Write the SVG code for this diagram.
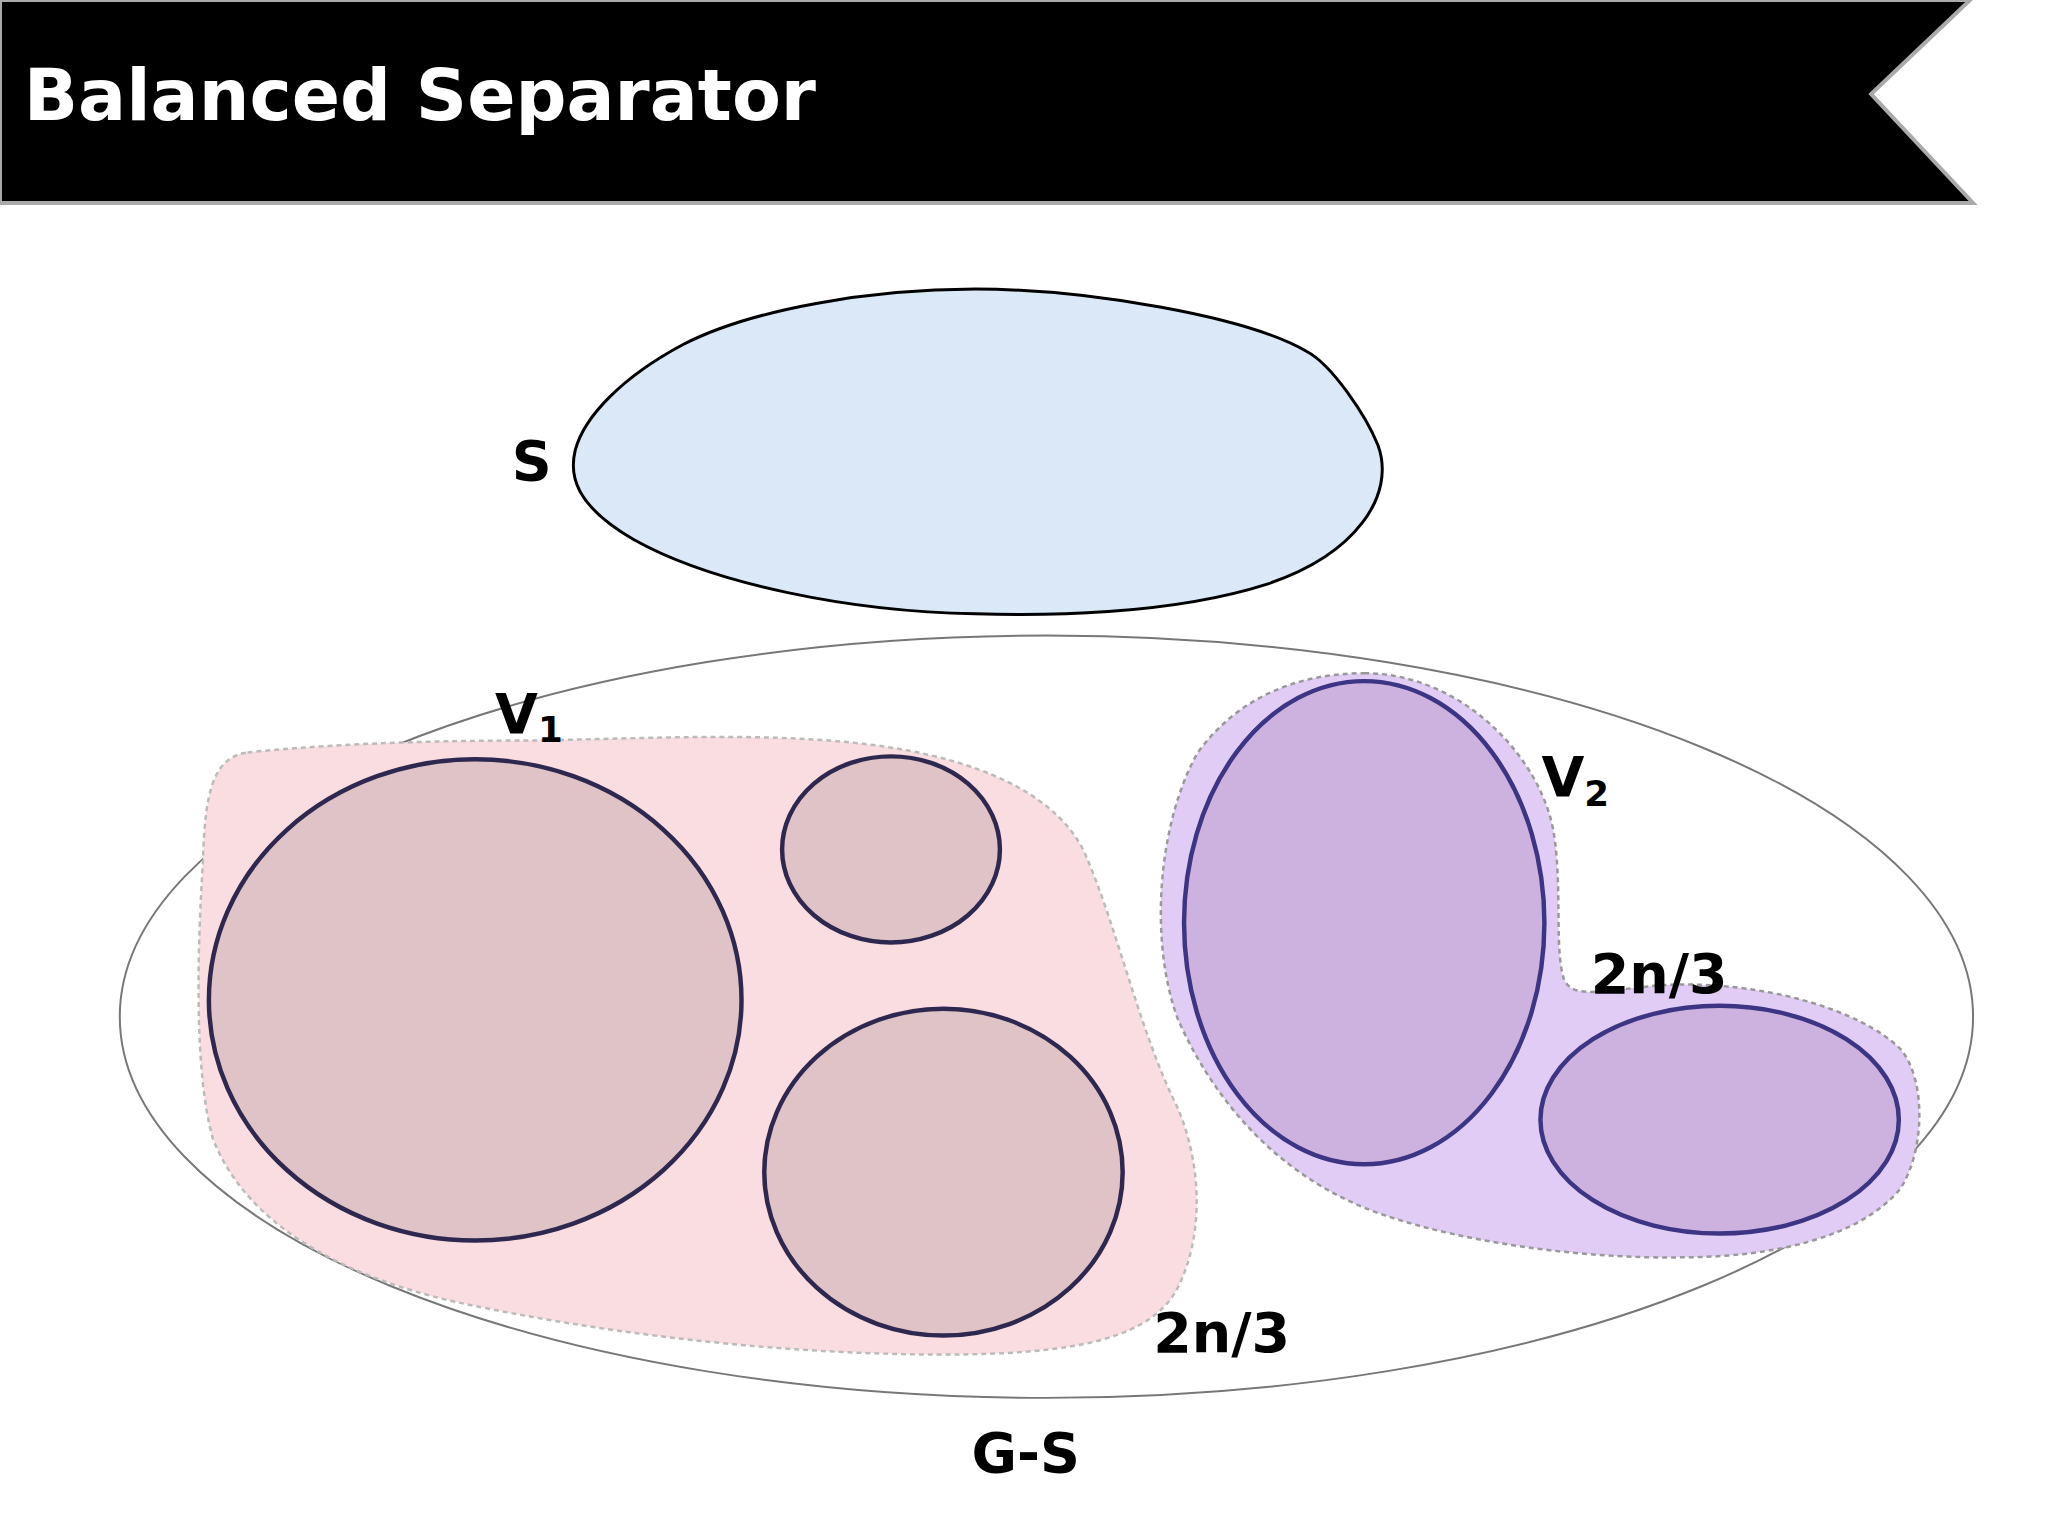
<svg xmlns="http://www.w3.org/2000/svg" width="2048" height="1536" viewBox="0 0 2048 1536">
<style>
.t{font-family:"DejaVu Sans",sans-serif;font-weight:bold;fill:#000}
.c{fill:#dfc3c6;stroke:#2e2850;stroke-width:4.5}
.p{fill:#cdb2e0;stroke:#3c3584;stroke-width:4.5}
</style>
<rect width="2048" height="1536" fill="#fff"/>
<g transform="scale(0.99)">
<g id="header">
<path d="M0,0 H1990 L1890,95 L1993,205 H0 Z" fill="#000" stroke="#aaa" stroke-width="4"/>
<text x="24" y="121" class="t" style="fill:#fff;font-size:72px">Balanced Separator</text>
</g>
<g id="S">
<path d="M985,292 C1100,292 1260,320 1320,355 C1345,368 1380,420 1392,450 C1410,500 1370,560 1280,590 C1180,622 1050,622 985,620 C860,618 720,590 640,545 C580,510 575,480 581,455 C590,420 630,380 690,348 C760,312 880,292 985,292 Z" fill="#dae8f8" stroke="#000" stroke-width="3"/>
<text x="537" y="485" class="t" font-size="56" text-anchor="middle">S</text>
</g>
<g id="GS">
<ellipse cx="1057" cy="1027" rx="936" ry="385" fill="none" stroke="#777" stroke-width="2"/>
<text x="1036" y="1487" class="t" font-size="56" text-anchor="middle">G-S</text>
</g>
<g id="V1">
<path d="M250,760 C350,750 450,748 540,748 C650,746 760,740 860,750 C960,760 1060,790 1095,860 C1130,940 1150,1040 1190,1120 C1215,1180 1215,1250 1190,1300 C1160,1360 1060,1370 920,1368 C760,1365 600,1345 460,1315 C350,1290 250,1240 215,1150 C195,1080 200,950 205,870 C207,800 215,765 250,760 Z" fill="#fadde0" stroke="#bbb" stroke-width="2.5" stroke-dasharray="5,4"/>
<ellipse cx="480" cy="1010" rx="269" ry="243" class="c"/>
<ellipse cx="900" cy="858" rx="110" ry="94" class="c"/>
<ellipse cx="953" cy="1184" rx="181" ry="165" class="c"/>
<text x="500" y="740" class="t" font-size="56">V<tspan font-size="36" dy="10">1</tspan></text>
<text x="1234" y="1366" class="t" font-size="56" text-anchor="middle">2n/3</text>
</g>
<g id="V2">
<path d="M1378,680 C1480,680 1560,770 1570,845 C1578,900 1570,960 1580,990 C1590,1010 1620,1000 1680,995 C1780,990 1880,1020 1920,1060 C1945,1090 1945,1160 1920,1200 C1880,1250 1790,1270 1700,1270 C1600,1272 1480,1255 1400,1228 C1300,1195 1230,1120 1190,1030 C1160,950 1170,830 1210,760 C1250,705 1310,680 1378,680 Z" fill="#e0ccf5" stroke="#999" stroke-width="2.5" stroke-dasharray="5,4"/>
<ellipse cx="1378" cy="932" rx="182" ry="244" class="p"/>
<ellipse cx="1737" cy="1131" rx="181" ry="115" class="p"/>
<text x="1557" y="804" class="t" font-size="56">V<tspan font-size="36" dy="10">2</tspan></text>
<text x="1676" y="1003" class="t" font-size="56" text-anchor="middle">2n/3</text>
</g>
</g>
</svg>
